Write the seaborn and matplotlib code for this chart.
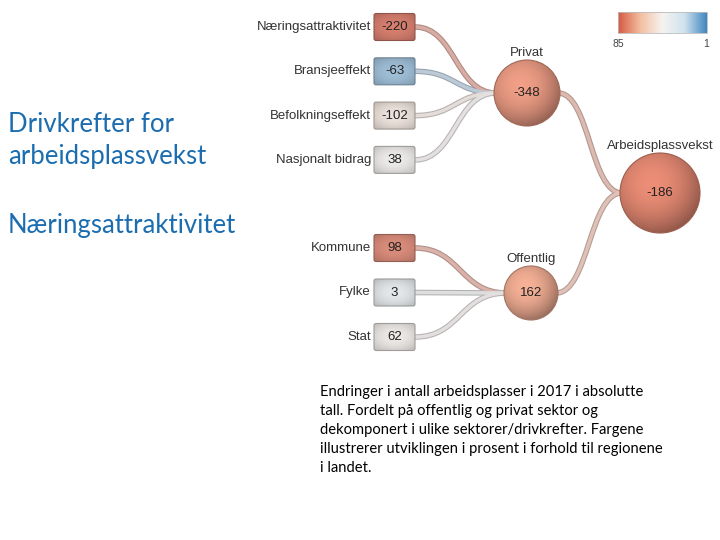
import matplotlib as mpl
import matplotlib.pyplot as plt
from matplotlib.patches import Circle, FancyBboxPatch
from matplotlib.path import Path
from matplotlib.patches import PathPatch
import seaborn as sns
import numpy as np

sns.set_style('white')
plt.rcParams['font.family'] = ['Liberation Sans', 'DejaVu Sans']

# data
privat_names = ['Næringsattraktivitet', 'Bransjeeffekt', 'Befolkningseffekt', 'Nasjonalt bidrag']
privat_values = [-220, -63, -102, 38]
privat_rank = [84, 12, 48, 43]

offentlig_names = ['Kommune', 'Fylke', 'Stat']
offentlig_values = [98, 3, 62]
offentlig_rank = [80, 36, 44]

group_names = ['Privat', 'Offentlig']
group_values = [-348, 162]
group_rank = [74, 70]

total_name = 'Arbeidsplassvekst'
total_value = -186
total_rank = 78

scale_ticks = [85, 1]

title = 'Drivkrefter for\narbeidsplassvekst'
subtitle = 'Næringsattraktivitet'
caption = ['Endringer i antall arbeidsplasser i 2017 i absolutte',
           'tall. Fordelt på offentlig og privat sektor og',
           'dekomponert i ulike sektorer/drivkrefter. Fargene',
           'illustrerer utviklingen i prosent i forhold til regionene',
           'i landet.']

# 1 = blue, 85 = red
cmap = sns.blend_palette(['#4187c0', '#cfe2ee', '#f6f3f1', '#f3bea0', '#d65a44'], as_cmap=True)
norm = mpl.colors.Normalize(vmin=min(scale_ticks), vmax=max(scale_ticks))
grey = np.array([0.8, 0.8, 0.8])


def node_color(rank, k=0.22):
    c = np.array(cmap(norm(rank))[:3])
    return (1 - k) * c + k * grey


def shade(ax, patch, ext, color, radial=True):
    n = 80
    xx, yy = np.meshgrid(np.linspace(-1, 1, n), np.linspace(-1, 1, n))
    if radial:
        r = np.sqrt((xx + 0.2) ** 2 + (yy + 0.25) ** 2)
        f = 1.07 - 0.24 * np.clip(r, 0, 1.4) ** 2
    else:
        f = 1.02 - 0.10 * (xx ** 2) - 0.12 * (yy ** 2)
    img = np.clip(color[None, None, :] * f[..., None], 0, 1)
    im = ax.imshow(img, extent=ext, zorder=patch.get_zorder() - 0.1,
                   interpolation='bilinear', aspect='auto')
    im.set_clip_path(patch)


def link(ax, x0, y0, x1, y1, color):
    xm = (x0 + x1) / 2
    path = Path([(x0, y0), (xm, y0), (xm, y1), (x1, y1)],
                [Path.MOVETO, Path.CURVE4, Path.CURVE4, Path.CURVE4])
    light = 0.5 * np.array(color) + 0.5 * np.array([0.86, 0.85, 0.85])
    ax.add_patch(PathPatch(path, fill=False, lw=4.0, ec=0.8 * light, capstyle='butt', zorder=1))
    ax.add_patch(PathPatch(path, fill=False, lw=2.5, ec=light, capstyle='butt', zorder=1.1))


fig = plt.figure(figsize=(7.2, 5.4), dpi=100)
ax = fig.add_axes([0, 0, 1, 1])

# layout
bx0, bw, bh = 374, 41, 27
group_xy = [(527, 93), (531, 293)]
group_r = [33, 27]
total_xy = (660, 193)
total_r = 40
leaf_y = [[27 + 44.3 * i for i in range(len(privat_names))],
          [248 + 44.5 * i for i in range(len(offentlig_names))]]

leaves = [(privat_names, privat_values, privat_rank),
          (offentlig_names, offentlig_values, offentlig_rank)]

for g, (names, vals, ranks) in enumerate(leaves):
    gx, gy = group_xy[g]
    for name, v, rk, y in zip(names, vals, ranks, leaf_y[g]):
        col = node_color(rk, 0.28)
        link(ax, bx0 + bw, y, gx - group_r[g] + 2, gy, col)
        box = FancyBboxPatch((bx0, y - bh / 2), bw, bh, boxstyle='round,pad=0,rounding_size=2',
                             fc='none', ec=0.68 * col, lw=0.8, zorder=3)
        ax.add_patch(box)
        shade(ax, box, (bx0, bx0 + bw, y + bh / 2, y - bh / 2), col, radial=False)
        ax.text(bx0 - 3, y, name, ha='right', va='center', fontsize=9.5, color='#333333', zorder=5)
        ax.text(bx0 + bw / 2, y, str(v), ha='center', va='center', fontsize=9.5, color='#222222', zorder=5)

tx, ty = total_xy
for g, name in enumerate(group_names):
    gx, gy = group_xy[g]
    col = node_color(group_rank[g])
    link(ax, gx + group_r[g] - 2, gy, tx - total_r + 2, ty, col)

circles = [(gx, gy, r, group_names[i], group_values[i], group_rank[i])
           for i, ((gx, gy), r) in enumerate(zip(group_xy, group_r))]
circles.append((tx, ty, total_r, total_name, total_value, total_rank))
for cx, cy, r, name, v, rk in circles:
    col = node_color(rk, 0.12)
    c = Circle((cx, cy), r, fc='none', ec=0.7 * col, lw=0.8, zorder=4)
    ax.add_patch(c)
    shade(ax, c, (cx - r, cx + r, cy + r, cy - r), col)
    ax.text(cx, cy, str(v), ha='center', va='center', fontsize=9.5, color='#222222', zorder=5)
    ax.text(cx, cy - r - 7, name, ha='center', va='center', fontsize=9.5, color='#333333', zorder=5)

# colour scale
grad = np.linspace(scale_ticks[0], scale_ticks[1], 200)[None, :]
ax.imshow(grad, cmap=cmap, norm=norm, extent=(618, 707, 33, 12), aspect='auto', zorder=3)
ax.add_patch(plt.Rectangle((618, 12), 89, 21, fc='none', ec='#bbbbbb', lw=0.6, zorder=4))
ax.text(618, 44, str(scale_ticks[0]), ha='center', va='center', fontsize=7.5, color='#444444')
ax.text(706, 44, str(scale_ticks[1]), ha='center', va='center', fontsize=7.5, color='#444444')

# slide texts
blue = '#1b6db0'
lato = ['Lato', 'DejaVu Sans']
ax.text(8, 132, title.split('\n')[0], fontsize=18.5, color=blue, family=lato, va='baseline')
ax.text(8, 164, title.split('\n')[1], fontsize=18.5, color=blue, family=lato, va='baseline')
ax.text(8, 233, subtitle, fontsize=18.5, color=blue, family=lato, va='baseline')
for i, line in enumerate(caption):
    ax.text(320, 396 + 19 * i, line, fontsize=10.6, color='black', family=lato, va='baseline')

ax.set_xlim(0, 720)
ax.set_ylim(540, 0)
ax.axis('off')
fig.savefig('out.png', dpi=100)
